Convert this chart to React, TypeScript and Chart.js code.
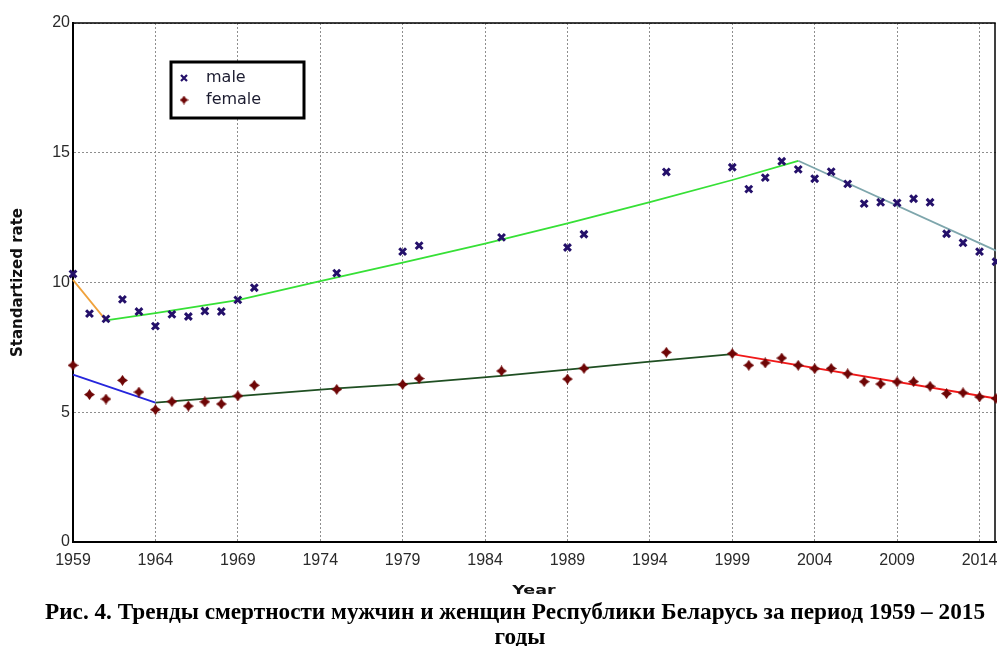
import React, { useEffect, useRef } from 'react';
import { Chart, registerables } from 'chart.js';

Chart.register(...registerables);

// Observed years (the series has gaps in the 1970s–1990s)
const YEARS = [
  1959, 1960, 1961, 1962, 1963, 1964, 1965, 1966, 1967, 1968, 1969, 1970,
  1975, 1979, 1980, 1985, 1989, 1990, 1995,
  1999, 2000, 2001, 2002, 2003, 2004, 2005, 2006, 2007, 2008, 2009, 2010,
  2011, 2012, 2013, 2014, 2015,
];

const MALE_RATES = [
  10.33, 8.8, 8.6, 9.35, 8.88, 8.32, 8.77, 8.69, 8.9, 8.88, 9.33, 9.8,
  10.36, 11.19, 11.42, 11.74, 11.35, 11.86, 14.26,
  14.44, 13.6, 14.04, 14.67, 14.36, 14.0, 14.27, 13.8, 13.04, 13.09, 13.07, 13.23,
  13.09, 11.88, 11.53, 11.19, 10.8,
];

const FEMALE_RATES = [
  6.81, 5.68, 5.51, 6.23, 5.78, 5.1, 5.41, 5.24, 5.4, 5.32, 5.63, 6.04,
  5.88, 6.07, 6.3, 6.59, 6.28, 6.69, 7.31,
  7.26, 6.81, 6.9, 7.09, 6.81, 6.68, 6.69, 6.48, 6.18, 6.09, 6.17, 6.18,
  6.0, 5.72, 5.75, 5.59, 5.53,
];

// Piecewise trend segments (joinpoints)
const MALE_TREND_1_YEARS = [1959, 1961];
const MALE_TREND_1 = [10.1, 8.54];
const MALE_TREND_2_YEARS = [1961, 1964, 1969, 1974, 1979, 1984, 1989, 1994, 1999, 2003];
const MALE_TREND_2 = [8.54, 8.82, 9.32, 10.05, 10.77, 11.5, 12.28, 13.1, 13.95, 14.69];
const MALE_TREND_3_YEARS = [2003, 2015];
const MALE_TREND_3 = [14.69, 11.23];

const FEMALE_TREND_1_YEARS = [1959, 1964];
const FEMALE_TREND_1 = [6.45, 5.37];
const FEMALE_TREND_2_YEARS = [1964, 1969, 1975, 1979, 1985, 1989, 1994, 1999];
const FEMALE_TREND_2 = [5.37, 5.62, 5.92, 6.08, 6.4, 6.64, 6.95, 7.24];
const FEMALE_TREND_3_YEARS = [1999, 2015];
const FEMALE_TREND_3 = [7.24, 5.53];

const YEAR_TICKS = [1959, 1964, 1969, 1974, 1979, 1984, 1989, 1994, 1999, 2004, 2009, 2014];
const RATE_TICKS = [0, 5, 10, 15, 20];

const CAPTION_LINE_1 =
  'Рис. 4. Тренды смертности мужчин и женщин Республики Беларусь за период 1959 – 2015';
const CAPTION_LINE_2 = 'годы';

const MALE_COLOR = '#24106a';
const FEMALE_COLOR = '#6e0606';

const pairs = (xs: number[], ys: number[]) => xs.map((x, i) => ({ x, y: ys[i] }));

// Four-pointed star marker used for the female series
function makeStar(size: number, color: string): HTMLCanvasElement {
  const c = document.createElement('canvas');
  c.width = size;
  c.height = size;
  const g = c.getContext('2d')!;
  const m = size / 2;
  const k = size * 0.2;
  g.fillStyle = color;
  g.beginPath();
  g.moveTo(m, 0);
  g.lineTo(m + k, m - k);
  g.lineTo(size, m);
  g.lineTo(m + k, m + k);
  g.lineTo(m, size);
  g.lineTo(m - k, m + k);
  g.lineTo(0, m);
  g.lineTo(m - k, m - k);
  g.closePath();
  g.fill();
  return c;
}

function trend(xs: number[], ys: number[], color: string) {
  return {
    type: 'line' as const,
    data: pairs(xs, ys),
    showLine: true,
    borderColor: color,
    borderWidth: 1.8,
    pointRadius: 0,
    fill: false,
    tension: 0,
    order: 2,
  };
}

const decorPlugin = {
  id: 'decor',
  beforeDatasetsDraw(chart: any) {
    const { ctx, chartArea: a } = chart;
    ctx.save();
    ctx.strokeStyle = '#000';
    ctx.lineWidth = 1.5;
    ctx.strokeRect(a.left, a.top, a.right - a.left - 1, a.bottom - a.top);
    ctx.restore();
  },
  afterDraw(chart: any) {
    const { ctx, chartArea: a } = chart;
    ctx.save();

    // y axis title
    ctx.save();
    ctx.translate(18.5, (a.top + a.bottom) / 2);
    ctx.rotate(-Math.PI / 2);
    ctx.font = 'bold 15px "DejaVu Sans"';
    ctx.fillStyle = '#111';
    ctx.textAlign = 'center';
    ctx.textBaseline = 'middle';
    ctx.fillText('Standartized rate', 0, 0);
    ctx.restore();

    // x axis title
    ctx.save();
    ctx.translate(534, 591);
    ctx.scale(1.35, 1);
    ctx.font = 'bold 13px "DejaVu Sans"';
    ctx.fillStyle = '#111';
    ctx.textAlign = 'center';
    ctx.textBaseline = 'middle';
    ctx.fillText('Year', 0, 0);
    ctx.restore();

    // legend box
    ctx.fillStyle = '#fff';
    ctx.fillRect(171, 62, 133, 56);
    ctx.strokeStyle = '#000';
    ctx.lineWidth = 3;
    ctx.strokeRect(171, 62, 133, 56);

    // male marker
    ctx.strokeStyle = MALE_COLOR;
    ctx.lineWidth = 2.2;
    ctx.beginPath();
    ctx.moveTo(181, 75);
    ctx.lineTo(187, 81);
    ctx.moveTo(187, 75);
    ctx.lineTo(181, 81);
    ctx.stroke();
    // female marker
    ctx.drawImage(makeStar(9, FEMALE_COLOR), 179.5, 95.5);

    ctx.font = '16px "DejaVu Sans"';
    ctx.fillStyle = '#1c1c30';
    ctx.textAlign = 'left';
    ctx.textBaseline = 'middle';
    ctx.fillText('male', 206, 78);
    ctx.fillText('female', 206, 100);
    ctx.restore();
  },
};

export default function App() {
  const canvasRef = useRef<HTMLCanvasElement | null>(null);
  const line1Ref = useRef<HTMLSpanElement | null>(null);
  const line2Ref = useRef<HTMLSpanElement | null>(null);

  useEffect(() => {
    const canvas = canvasRef.current;
    if (!canvas) return;
    const star = makeStar(11, FEMALE_COLOR);

    const chart = new Chart(canvas, {
      type: 'scatter',
      data: {
        datasets: [
          {
            label: 'male',
            data: pairs(YEARS, MALE_RATES),
            pointStyle: 'crossRot',
            pointRadius: 4.8,
            borderColor: MALE_COLOR,
            backgroundColor: MALE_COLOR,
            borderWidth: 3,
            order: 0,
          },
          {
            label: 'female',
            data: pairs(YEARS, FEMALE_RATES),
            pointStyle: star as any,
            pointRadius: 5,
            borderColor: FEMALE_COLOR,
            backgroundColor: FEMALE_COLOR,
            order: 1,
          },
          trend(MALE_TREND_1_YEARS, MALE_TREND_1, '#f0a23c'),
          trend(MALE_TREND_2_YEARS, MALE_TREND_2, '#36e036'),
          trend(MALE_TREND_3_YEARS, MALE_TREND_3, '#7ea6ac'),
          trend(FEMALE_TREND_1_YEARS, FEMALE_TREND_1, '#2626dc'),
          trend(FEMALE_TREND_2_YEARS, FEMALE_TREND_2, '#1f4f22'),
          trend(FEMALE_TREND_3_YEARS, FEMALE_TREND_3, '#f01818'),
        ] as any,
      },
      options: {
        responsive: false,
        animation: false,
        clip: false as any,
        layout: { autoPadding: false, padding: { top: 23, right: 1, bottom: 0, left: 0 } },
        plugins: {
          legend: { display: false },
          tooltip: { enabled: false },
          title: { display: false },
        },
        scales: {
          x: {
            type: 'linear',
            min: 1959,
            max: 2015,
            afterBuildTicks: (s: any) => {
              s.ticks = YEAR_TICKS.map((v) => ({ value: v }));
            },
            afterFit: (s: any) => {
              s.height = 58;
              s.paddingLeft = 0;
              s.paddingRight = 0;
            },
            ticks: {
              autoSkip: false,
              maxRotation: 0,
              padding: 9,
              color: '#2a2a2a',
              font: { family: '"Liberation Sans"', size: 16 },
              callback: (v: any) => String(v),
            },
            grid: { color: '#8e8e8e', lineWidth: 1, drawTicks: false },
            border: { color: '#000', width: 2, dash: [2, 2] },
          },
          y: {
            min: 0,
            max: 20,
            afterBuildTicks: (s: any) => {
              s.ticks = RATE_TICKS.map((v) => ({ value: v }));
            },
            afterFit: (s: any) => {
              s.width = 73;
            },
            ticks: {
              padding: 3,
              color: '#2a2a2a',
              font: { family: '"Liberation Sans"', size: 16 },
              callback: (v: any) => String(v),
            },
            grid: { color: '#8e8e8e', lineWidth: 1, drawTicks: false },
            border: { color: '#000', width: 2, dash: [2, 2] },
          },
        },
      } as any,
      plugins: [decorPlugin],
    });

    // Caption lines are rendered in a condensed bold serif
    const fit = () => {
      const l1 = line1Ref.current;
      const l2 = line2Ref.current;
      if (!l1 || !l2) return;
      l1.style.transform = 'none';
      const w = l1.getBoundingClientRect().width;
      const sx = w > 0 ? 940 / w : 1;
      l1.style.transform = `scaleX(${sx})`;
      l2.style.transform = `translateX(-50%) scaleX(${sx})`;
    };
    fit();
    (document as any).fonts?.ready?.then(fit);

    return () => chart.destroy();
  }, []);

  const captionFont: React.CSSProperties = {
    fontFamily: '"Liberation Serif", "Times New Roman", serif',
    fontWeight: 'bold',
    fontSize: 24,
    lineHeight: '24px',
    color: '#000',
    whiteSpace: 'nowrap',
    position: 'absolute',
  };

  return (
    <div
      style={{
        position: 'absolute',
        left: 0,
        top: 0,
        width: 997,
        height: 646,
        background: '#fff',
        overflow: 'hidden',
      }}
    >
      <canvas ref={canvasRef} width={997} height={600} style={{ display: 'block' }} />
      <span
        ref={line1Ref}
        style={{ ...captionFont, left: 45, top: 599, transformOrigin: 'left center' }}
      >
        {CAPTION_LINE_1}
      </span>
      <span
        ref={line2Ref}
        style={{ ...captionFont, left: 520, top: 624, transformOrigin: 'center center' }}
      >
        {CAPTION_LINE_2}
      </span>
    </div>
  );
}
